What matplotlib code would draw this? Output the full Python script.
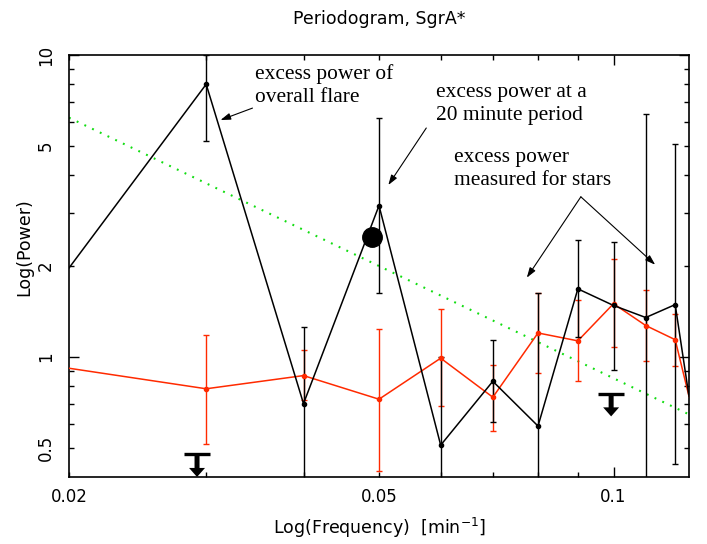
import matplotlib
matplotlib.use("Agg")
import matplotlib.pyplot as plt
from matplotlib.transforms import ScaledTranslation

# frequencies (min^-1); last point sits on the Nyquist edge
freq = [0.02, 0.03, 0.04, 0.05, 0.06, 0.07, 0.08, 0.09, 0.10, 0.11, 0.12, 0.125]

# Sgr A* periodogram (black)
sgra_power = [1.97, 8.0, 0.70, 3.17, 0.51, 0.83, 0.59, 1.68, 1.48, 1.35, 1.49, 0.74]
sgra_hi = [1.97, 10.0, 1.26, 6.2, 1.0, 1.14, 1.63, 2.43, 2.40, 6.4, 5.06, 0.74]
sgra_lo = [1.97, 5.2, 0.3, 1.63, 0.3, 0.608, 0.3, 1.16, 0.905, 0.3, 0.441, 0.74]

# stars (red)
star_power = [0.917, 0.784, 0.867, 0.724, 0.99, 0.735, 1.20, 1.13, 1.50, 1.27, 1.14, 0.74]
star_hi = [0.917, 1.18, 1.05, 1.24, 1.44, 0.94, 1.63, 1.54, 2.11, 1.67, 1.39, 0.74]
star_lo = [0.917, 0.516, 0.72, 0.419, 0.685, 0.57, 0.887, 0.835, 1.08, 0.97, 0.934, 0.74]

# 20 minute peak
peak_freq = [0.049]
peak_power = [2.5]

# upper limits
ul_freq = [0.0292, 0.0993]
ul_power = [0.475, 0.754]

# power-law model (green dotted)
model_freq = [0.02, 0.125]
model_power = [6.2, 0.645]

RED = '#ff2a00'
GREEN = '#11dd11'

fig = plt.figure(figsize=(7.07, 5.44), dpi=100)
ax = fig.add_axes([69 / 707, 1 - 477 / 544, 620 / 707, 422 / 544])
ax.set_xscale('log')
ax.set_yscale('log')
ax.set_xlim(0.02, 0.125)
ax.set_ylim(0.4, 10)


def draw_series(p, hi, lo, color):
    ax.plot(freq, p, color=color, lw=1.1, zorder=3)
    inner = slice(1, -1)
    pin = p[inner]
    err = [[a - b for a, b in zip(pin, lo[inner])],
           [b - a for a, b in zip(pin, hi[inner])]]
    ax.errorbar(freq[inner], pin, yerr=err, fmt='o', ms=3, color=color,
                ecolor=color, elinewidth=1.0, capsize=2.5, capthick=1.0, zorder=3)


draw_series(star_power, star_hi, star_lo, RED)
draw_series(sgra_power, sgra_hi, sgra_lo, 'black')

ax.plot(peak_freq, peak_power, 'o', ms=14, color='black', zorder=4)
ax.plot(model_freq, model_power, color=GREEN, lw=1.5, ls=(0, (0.9, 3.2)), zorder=2)

# upper-limit symbols: bar plus thick down arrow
tip = ax.transData + ScaledTranslation(0, -0.225, fig.dpi_scale_trans)
for fx, pw in zip(ul_freq, ul_power):
    ax.plot([fx], [pw], marker='_', ms=19, mew=2.4, color='black', zorder=5)
    ax.annotate('', xy=(fx, pw), xycoords=tip, xytext=(fx, pw), textcoords='data',
                arrowprops=dict(arrowstyle='simple,head_length=0.65,head_width=1.15,tail_width=0.36',
                                fc='black', ec='none', lw=0, shrinkA=0, shrinkB=0,
                                mutation_scale=10), zorder=5)

# annotations
serif = dict(family='Liberation Serif', fontsize=15.4, linespacing=1.28, va='top', ha='left')
ax.text(0.0347, 9.35, 'excess power of\noverall flare', **serif)
ax.text(0.0592, 8.05, 'excess power at a\n20 minute period', **serif)
ax.text(0.0625, 4.92, 'excess power\nmeasured for stars', **serif)

arr = dict(arrowstyle='-|>,head_length=0.6,head_width=0.2', color='black', lw=0.8,
           shrinkA=0, shrinkB=0, mutation_scale=10)
ax.annotate('', xy=(0.0313, 6.09), xytext=(0.0344, 6.67), arrowprops=arr)
ax.annotate('', xy=(0.0514, 3.71), xytext=(0.0575, 5.73), arrowprops=arr)
ax.annotate('', xy=(0.0774, 1.83), xytext=(0.0908, 3.39), arrowprops=arr)
ax.annotate('', xy=(0.1131, 2.02), xytext=(0.0908, 3.39), arrowprops=arr)

# ticks
x_minor = [0.02, 0.03, 0.04, 0.05, 0.06, 0.07, 0.08, 0.09]
ax.set_xticks([0.1], labels=['0.1'])
ax.set_xticks(x_minor, labels=['0.02', '', '', '0.05', '', '', '', ''], minor=True)
y_minor = [0.5, 0.6, 0.7, 0.8, 0.9, 2, 3, 4, 5, 6, 7, 8, 9]
ax.set_yticks([1, 10], labels=['1', '10'])
ax.set_yticks(y_minor, labels=['0.5', '', '', '', '', '2', '', '', '5', '', '', '', ''], minor=True)

ax.tick_params(which='both', direction='in', top=True, right=True, width=1.0,
               labelsize=12)
ax.tick_params(which='major', length=7)
ax.tick_params(which='minor', length=3.5)
ax.tick_params(axis='x', which='both', pad=8)
ax.tick_params(axis='y', which='both', pad=10, labelrotation=90)
for lab in ax.get_yticklabels(which='both'):
    lab.set_va('center')

for sp in ax.spines.values():
    sp.set_linewidth(1.2)

ax.set_title('Periodogram, SgrA*', fontsize=12.5, pad=22)
ax.set_xlabel(r'Log(Frequency)  [min$^{-1}$]', fontsize=12.5)
ax.xaxis.set_label_coords(0.5, -0.092)
ax.set_ylabel('Log(Power)', fontsize=12.5)
ax.yaxis.set_label_coords(-0.058, 0.545)

fig.savefig('out.png', dpi=100)
